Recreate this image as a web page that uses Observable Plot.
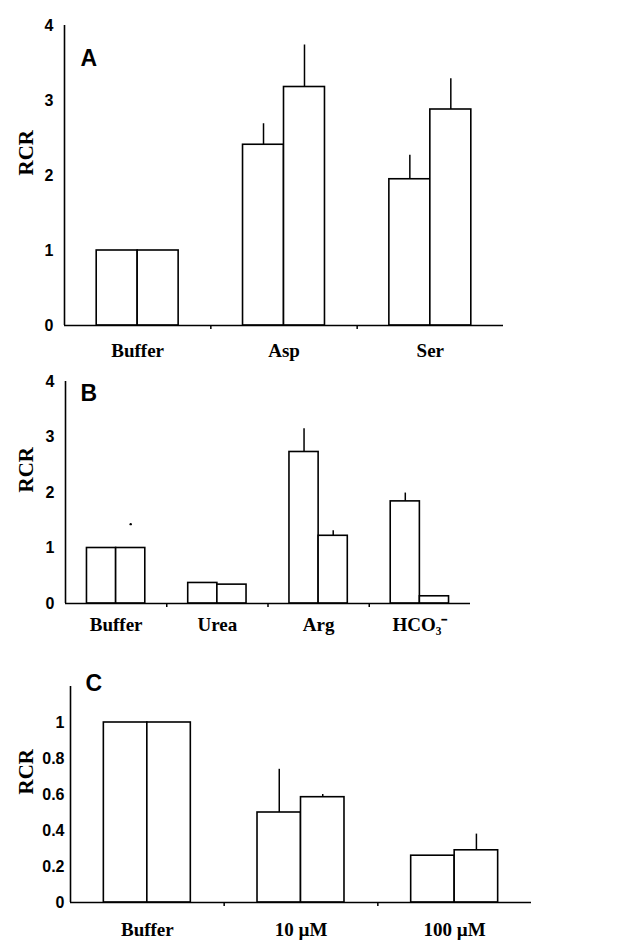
<!DOCTYPE html>
<html>
<head>
<meta charset="utf-8">
<script src="https://cdn.jsdelivr.net/npm/d3@7"></script>
<script src="https://cdn.jsdelivr.net/npm/@observablehq/plot@0.6"></script>
<style>
  html, body { margin: 0; padding: 0; background: #fff; }
  #wrap { position: relative; width: 623px; height: 942px; overflow: hidden; }
  #wrap svg { position: absolute; left: 0; }
</style>
</head>
<body>
<div id="wrap"></div>
<script>
// ---- Panel A ----
const catsA = ["Buffer", "Asp", "Ser"];
const a1 = [1.0, 2.41, 1.95];
const a1Err = [0, 0.28, 0.32];
const a2 = [1.0, 3.18, 2.88];
const a2Err = [0, 0.56, 0.41];
const ticksA = [0, 1, 2, 3, 4];

// ---- Panel B ----
const catsB = ["Buffer", "Urea", "Arg", "HCO₃⁻"];
const b1 = [1.0, 0.37, 2.73, 1.84];
const b1Err = [0, 0, 0.42, 0.15];
const b2 = [1.0, 0.34, 1.22, 0.13];
const b2Err = [0.43, 0, 0.09, 0];
const ticksB = [0, 1, 2, 3, 4];

// ---- Panel C ----
const catsC = ["Buffer", "10 µM", "100 µM"];
const c1 = [1.0, 0.50, 0.26];
const c1Err = [0, 0.24, 0];
const c2 = [1.0, 0.585, 0.29];
const c2Err = [0, 0.015, 0.09];
const ticksC = [0, 0.2, 0.4, 0.6, 0.8, 1];

const SANS = "'Liberation Sans', Arial, sans-serif";
const SERIF = "'Liberation Serif', 'Times New Roman', serif";

function panel(o) {
  const {cats, s1, e1, s2, e2, w} = o;
  const rows = cats.flatMap((c, i) => [
    {i, x1: i - w, x2: i, y: s1[i], err: e1[i], xc: i - w / 2},
    {i, x1: i, x2: i + w, y: s2[i], err: e2[i], xc: i + w / 2}
  ]);
  const faint = o.faint || (() => false);
  const errs = rows.filter(d => d.err > 0 && !faint(d));
  const dots = rows.filter(d => d.err > 0 && faint(d));
  const n = cats.length;
  const bounds = d3.range(1, n).map(k => k - 0.5);
  const svg = Plot.plot({
    width: 623,
    height: o.height,
    marginLeft: o.marginLeft,
    marginRight: o.marginRight,
    marginTop: o.marginTop,
    marginBottom: o.marginBottom,
    style: {background: "white", color: "black", overflow: "visible"},
    x: {domain: [-0.5, n - 0.5], axis: null},
    y: {domain: o.yDomain, axis: null},
    marks: [
      Plot.ruleX(errs, {x: "xc", y1: "y", y2: d => d.y + d.err, stroke: "black", strokeWidth: 1.5}),
      Plot.rectY(rows, {x1: "x1", x2: "x2", y1: 0, y2: "y", fill: "white", stroke: "black", strokeWidth: 1.6}),
      Plot.dot(dots, {x: "xc", y: d => d.y + d.err, r: 1.2, fill: "black", stroke: null}),
      Plot.ruleX([-0.5], {stroke: "black", strokeWidth: 1.6}),
      Plot.ruleY([0], {stroke: "black", strokeWidth: 1.6}),
      Plot.axisY({ticks: o.yTicks, tickSize: 0, tickPadding: o.yPad, tickFormat: d => String(d), fontSize: 16, fontWeight: "bold", fontFamily: SANS, label: null}),
      Plot.axisX({ticks: bounds, tickSize: 4, tickFormat: () => "", strokeWidth: 1.5}),
      Plot.axisX({ticks: d3.range(n), tickSize: 0, tickPadding: o.xPad, tickFormat: i => cats[i], fontSize: 19, fontWeight: "bold", fontFamily: SERIF, label: null}),
      Plot.text(["RCR"], {frameAnchor: "left", dx: o.rcrDx, rotate: -90, fontSize: 21, fontFamily: SERIF, fontWeight: "bold", fill: "black"}),
      Plot.text([o.letter], {frameAnchor: "top-left", dx: o.letterDx, dy: o.letterDy, textAnchor: "start", lineAnchor: "middle", fontSize: 23, fontWeight: "bold", fontFamily: SANS, fill: "black"})
    ]
  });
  svg.style.top = o.top + "px";
  document.getElementById("wrap").appendChild(svg);
}

panel({
  cats: catsA, s1: a1, e1: a1Err, s2: a2, e2: a2Err, w: 0.28,
  top: 0, height: 370, marginTop: 25, marginBottom: 45, marginLeft: 64, marginRight: 120,
  yDomain: [0, 4], yTicks: ticksA, yPad: 11, xPad: 18, rcrDx: -38,
  letter: "A", letterDx: 16, letterDy: 33
});

panel({
  cats: catsB, s1: b1, e1: b1Err, s2: b2, e2: b2Err, w: 0.288,
  top: 365, height: 285, marginTop: 16, marginBottom: 47, marginLeft: 65, marginRight: 153,
  yDomain: [0, 4], yTicks: ticksB, yPad: 11, xPad: 14, rcrDx: -39,
  letter: "B", letterDx: 15, letterDy: 12,
  faint: d => d.i === 0
});

panel({
  cats: catsC, s1: c1, e1: c1Err, s2: c2, e2: c2Err, w: 0.283,
  top: 650, height: 292, marginTop: 36, marginBottom: 40, marginLeft: 70, marginRight: 92,
  yDomain: [0, 1.2], yTicks: ticksC, yPad: 6, xPad: 20, rcrDx: -44,
  letter: "C", letterDx: 15, letterDy: -3
});
</script>
</body>
</html>
